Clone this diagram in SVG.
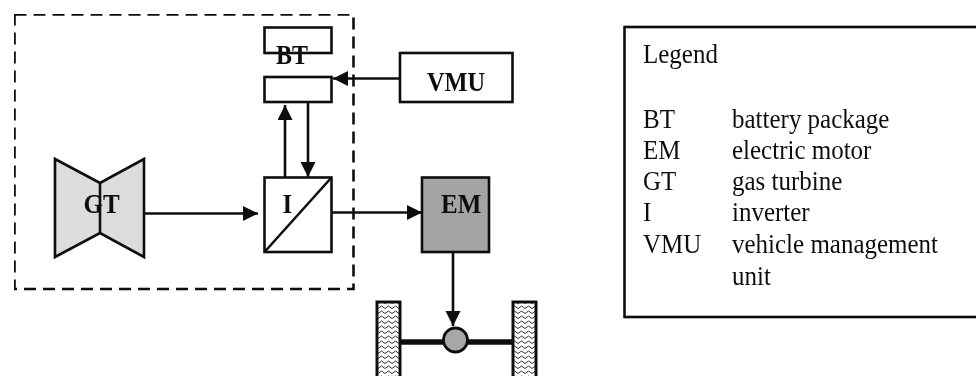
<svg xmlns="http://www.w3.org/2000/svg" width="976" height="376" viewBox="0 0 976 376">
<style>
.b{fill:none;stroke:#111;stroke-width:2.6}
.w{fill:#fff;stroke:#111;stroke-width:2.6}
.c{fill:none;stroke:#111;stroke-width:2.6;marker-end:url(#a)}
.t{font-family:"Liberation Serif","Times New Roman",serif;font-weight:bold;font-size:25px;fill:#111}
.l{font-family:"Liberation Serif","Times New Roman",serif;font-size:25px;fill:#111}
.wheel{fill:url(#wave);stroke:#111;stroke-width:3}
</style>
<defs>
<marker id="a" markerUnits="userSpaceOnUse" markerWidth="16" markerHeight="16" refX="15" refY="7.500" orient="auto"><path d="M0 0L15 7.500L0 15Z" fill="#111"/></marker>
<pattern id="wave" patternUnits="userSpaceOnUse" width="7" height="5"><rect width="7" height="5" fill="#fff"/><path d="M0 3.500L3.500 1L7 3.500" fill="none" stroke="#333" stroke-width="1"/></pattern>
<filter id="soft" x="0" y="0" width="1" height="1"><feGaussianBlur stdDeviation="0.4"/></filter>
</defs>
<rect width="976" height="376" fill="#fff"/>
<g filter="url(#soft)">
<g id="boundary"><rect x="14.500" y="14.500" width="339" height="274.500" fill="none" stroke="#111" stroke-width="2.600" stroke-dasharray="12 7"/></g>
<g id="connectors">
<path class="c" d="M145 213.500H258"/>
<path class="c" d="M285 177V105"/>
<path class="c" d="M308 102V177"/>
<path class="c" d="M400 78.500H333"/>
<path class="c" d="M332 212.500H422"/>
<path class="c" d="M453 252V326"/>
</g>
<g id="BT"><rect class="b" x="264.500" y="27.500" width="67" height="25.500"/><rect class="b" x="264.500" y="77" width="67" height="25"/><text class="t" transform="translate(276 64) scale(1 1.100)" style="font-size:24px">BT</text></g>
<g id="VMU"><rect class="w" x="400" y="53" width="112.500" height="49"/><text class="t" transform="translate(427 91) scale(1 1.100)" style="font-size:24.400px">VMU</text></g>
<g id="GT"><path d="M55 159L100 183L144 159V257L100 233L55 257Z" fill="#dcdcdc" stroke="#111" stroke-width="2.600"/><path class="b" d="M100 183V233"/><text class="t" transform="translate(83.500 213) scale(1 1.100)">GT</text></g>
<g id="I"><rect class="w" x="264.500" y="177.500" width="67" height="74.500"/><path class="b" d="M264.500 252L331.500 177.500"/><text class="t" transform="translate(282.500 213) scale(1 1.100)">I</text></g>
<g id="EM"><rect x="422" y="177.500" width="67" height="74.500" fill="#a4a4a4" stroke="#111" stroke-width="2.600"/><text class="t" transform="translate(441 213) scale(1 1.100)">EM</text></g>
<g id="drive">
<path d="M400 342H512" stroke="#111" stroke-width="5.500" fill="none"/>
<circle cx="455.500" cy="340" r="12" fill="#a8a8a8" stroke="#111" stroke-width="2.800"/>
<rect class="wheel" x="377" y="302" width="23" height="80"/>
<rect class="wheel" x="513" y="302" width="23" height="80"/>
</g>
<g id="legend">
<rect x="624.500" y="27" width="360" height="290" fill="none" stroke="#111" stroke-width="2.600"/>
<g transform="scale(1 1.100)">
<text class="l" x="643" y="57.270">Legend</text>
<text class="l" x="643" y="116.360">BT</text><text class="l" x="732" y="116.360">battery package</text>
<text class="l" x="643" y="144.550">EM</text><text class="l" x="732" y="144.550">electric motor</text>
<text class="l" x="643" y="172.730">GT</text><text class="l" x="732" y="172.730">gas turbine</text>
<text class="l" x="643" y="200.910">I</text><text class="l" x="732" y="200.910">inverter</text>
<text class="l" x="643" y="230">VMU</text><text class="l" x="732" y="230">vehicle management</text>
<text class="l" x="732" y="259.090">unit</text>
</g>
</g>
</g>
</svg>
